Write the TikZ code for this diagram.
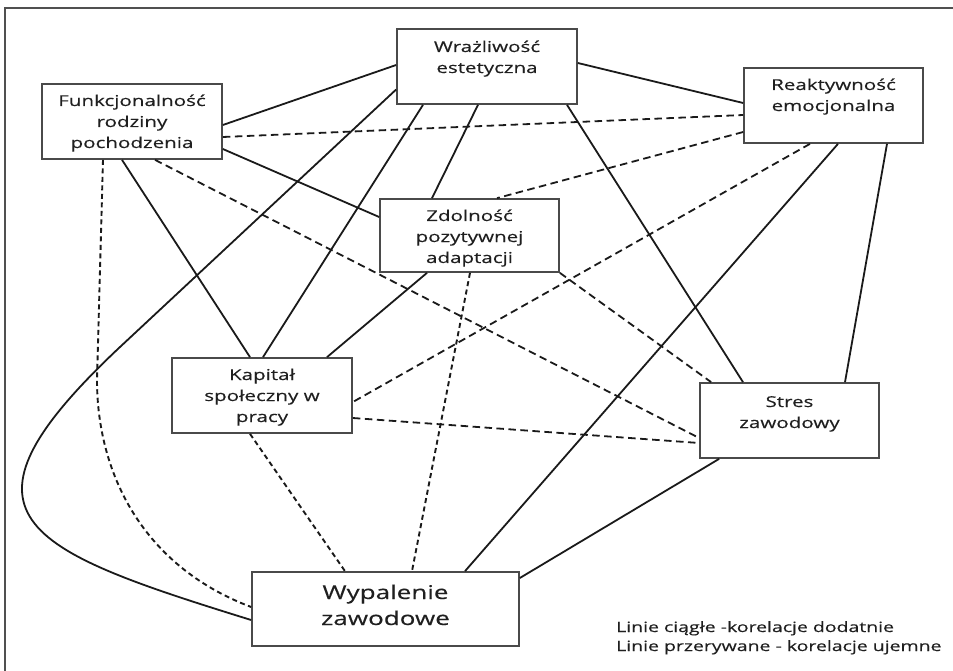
\documentclass[tikz,border=0pt]{standalone}
\usepackage{fontspec}
\setmainfont{Open Sans}[FakeStretch=1.37,FakeBold=0.35]
\usetikzlibrary{calc}
\definecolor{txt}{HTML}{1F1F1F}
\definecolor{edgec}{HTML}{1A1A1A}
\definecolor{boxc}{HTML}{4A4A4A}
\definecolor{framec}{HTML}{505050}
\newcommand{\boxlines}[1]{\begin{tabular}[t]{@{}c@{}}#1\end{tabular}}
\newcommand{\leftlines}[1]{\begin{tabular}[t]{@{}l@{}}#1\end{tabular}}
\begin{document}
\begin{tikzpicture}[x=1pt,y=-1pt,
  box/.style={draw=boxc, line width=1.7pt, inner sep=0pt, rectangle},
  lbl/.style={text=txt, inner sep=0pt, anchor=base, font=\fontsize{15}{21}\selectfont},
  biglbl/.style={text=txt, inner sep=0pt, anchor=base, font=\fontsize{19}{26}\selectfont},
  legendtxt/.style={text=txt, inner sep=0pt, anchor=base west, font=\fontsize{14.2}{19}\selectfont},
  posline/.style={draw=edgec, line width=1.8pt},
  negline/.style={draw=edgec, line width=1.8pt, dash pattern=on 7.5pt off 4.5pt},
  negvline/.style={draw=edgec, line width=1.9pt, dash pattern=on 5pt off 3.5pt}]
\useasboundingbox (0,0) rectangle (953,671);
\draw[draw=framec, line width=1.7pt] (5,671) -- (5,8) -- (953,8);

% boxes
\node[box, minimum width=180pt, minimum height=75pt] (wraz) at (487,66.5) {};
\node[box, minimum width=180pt, minimum height=75pt] (funk) at (132,121.5) {};
\node[box, minimum width=179pt, minimum height=75pt] (reakt) at (833.5,105.5) {};
\node[box, minimum width=179pt, minimum height=73pt] (zdol) at (469.5,235.5) {};
\node[box, minimum width=180pt, minimum height=75pt] (kap) at (262,395.5) {};
\node[box, minimum width=179pt, minimum height=75pt] (stres) at (789.5,420.5) {};
\node[box, minimum width=267pt, minimum height=74pt] (wyp) at (385.5,609) {};

% texts
\node[lbl] (wrazT) at (487,52) {\boxlines{Wrażliwość\\estetyczna}};
\node[lbl] (funkT) at (132,106) {\boxlines{Funkcjonalność\\rodziny\\pochodzenia}};
\node[lbl] (reaktT) at (833.5,90) {\boxlines{Reaktywność\\emocjonalna}};
\node[lbl] (zdolT) at (469.5,221) {\boxlines{Zdolność\\pozytywnej\\adaptacji}};
\node[lbl] (kapT) at (262,380) {\boxlines{Kapitał\\społeczny w\\pracy}};
\node[lbl] (stresT) at (789.5,407) {\boxlines{Stres\\zawodowy}};
\node[biglbl] (wypT) at (385.5,599) {\boxlines{Wypalenie\\zawodowe}};
\node[legendtxt] (leg) at (616,632) {\leftlines{Linie ciągłe -korelacje dodatnie\\Linie przerywane - korelacje ujemne}};

% bend points
\coordinate (bendA) at (120,347);
\coordinate (bendB) at (97,380);

% connectors
\draw[posline] ($(funk.east)+(0,3.5)$) -- ($(wraz.west)+(0,-1.5)$);
\draw[negline] ($(funk.east)+(0,15.5)$) -- ($(reakt.west)+(0,9.5)$);
\draw[posline] ($(funk.east)+(0,27.5)$) -- ($(zdol.west)+(0,-18.5)$);
\draw[posline] ($(funk.south)+(-10,0)$) -- ($(kap.north)+(-12,0)$);
\draw[negvline] ($(funk.south)+(-29,0)$) -- (bendB) .. controls (97,470) and (140,565) .. ($(wyp.west)+(0,-2)$);
\draw[negline] ($(funk.south)+(23,0)$) -- ($(stres.west)+(0,17.5)$);
\draw[posline] ($(wraz.west)+(0,23)$) -- (bendA) .. controls (-60,516) and (22,549) .. ($(wyp.west)+(0,11)$);
\draw[posline] ($(wraz.south)+(-64,0)$) -- ($(kap.north)+(1,0)$);
\draw[posline] ($(wraz.south)+(-9,0)$) -- ($(zdol.north)+(-37.5,0)$);
\draw[posline] ($(wraz.south)+(80,0)$) -- ($(stres.north)+(-46.5,0)$);
\draw[posline] ($(wraz.east)+(0,-3.5)$) -- ($(reakt.west)+(0,-2.5)$);
\draw[negline] ($(reakt.west)+(0,26.5)$) -- ($(zdol.north)+(27.5,0)$);
\draw[negline] ($(reakt.south)+(-23.5,0)$) -- ($(kap.east)+(0,6.5)$);
\draw[posline] ($(reakt.south)+(4.5,0)$) -- ($(wyp.north)+(79.5,0)$);
\draw[posline] ($(reakt.south)+(53.5,0)$) -- ($(stres.north)+(55.5,0)$);
\draw[posline] ($(zdol.south)+(-42.5,0)$) -- ($(kap.north)+(65,0)$);
\draw[negvline] ($(zdol.south)+(0.5,0)$) -- ($(wyp.north)+(26.5,0)$);
\draw[negline] (zdol.south east) -- ($(stres.north west)+(12,0)$);
\draw[negline] ($(kap.east)+(0,22.5)$) -- ($(stres.west)+(0,22.5)$);
\draw[negvline] ($(kap.south)+(-12,0)$) -- ($(wyp.north)+(-40.5,0)$);
\draw[posline] ($(stres.south west)+(20,0)$) -- ($(wyp.east)+(0,-31)$);
\end{tikzpicture}
\end{document}
